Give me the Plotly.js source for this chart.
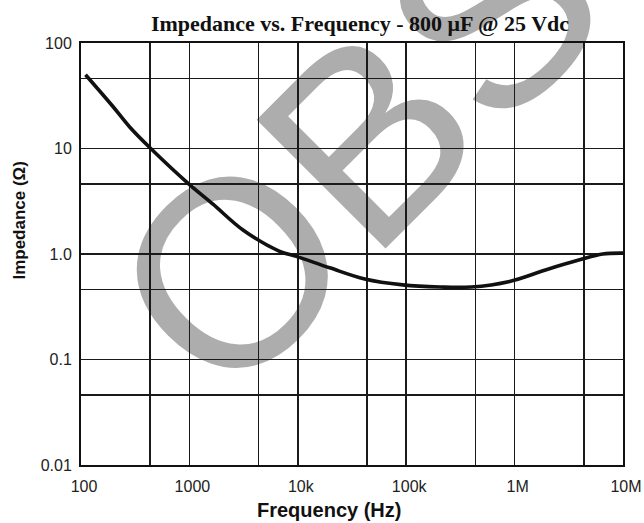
<!DOCTYPE html>
<html>
<head>
<meta charset="utf-8">
<script src="https://cdn.plot.ly/plotly-3.0.1.min.js"></script>
<style>html,body{margin:0;padding:0;background:#fff;}#chart{width:644px;height:523px;}</style>
</head>
<body>
<div id="chart"></div>
<script>
// Data
const frequencyHz = [110, 197, 281, 440, 990, 1650, 3120, 6800, 9700, 19700, 41400, 93000, 204000, 398000, 900000, 1960000, 3980000, 6500000, 10000000];
const impedanceOhm = [50, 25, 16, 10, 4.6, 2.97, 1.69, 1.06, 0.95, 0.74, 0.58, 0.51, 0.487, 0.487, 0.55, 0.71, 0.88, 1.0, 1.02];

const xTickVals = [100, 435, 1000, 4350, 10000, 43500, 100000, 435000, 1000000, 4350000, 10000000];
const xTickText = ['100', '', '1000', '', '10k', '', '100k', '', '1M', '', '10M'];
const yTickVals = [0.01, 0.046, 0.1, 0.46, 1, 4.6, 10, 46, 100];
const yTickText = ['0.01', '', '0.1', '', '1.0', '', '10', '', '100'];

const titleText = 'Impedance vs. Frequency - 800 \u03BCF @ 25 Vdc';
const xTitle = 'Frequency (Hz)';
const yTitle = 'Impedance (\u03A9)';
const watermark = 'OBS';

const sans = 'Liberation Sans, Arial, Helvetica, sans-serif';

const trace = {
  x: frequencyHz, y: impedanceOhm, type: 'scatter', mode: 'lines',
  line: {color: '#111', width: 3.6, shape: 'spline', smoothing: 1.0},
  hoverinfo: 'skip'
};

const axisCommon = {
  type: 'log', showgrid: true, gridcolor: '#1a1a1a', gridwidth: 1.6,
  showline: true, linecolor: '#111', linewidth: 2, mirror: true,
  ticks: '', zeroline: false, tickmode: 'array',
  tickfont: {family: sans, size: 16, color: '#222'}
};

const layout = {
  width: 644, height: 523,
  margin: {l: 81, r: 21, t: 43, b: 58},
  paper_bgcolor: '#fff', plot_bgcolor: 'rgba(0,0,0,0)',
  showlegend: false,
  title: {text: '<b>' + titleText + '</b>', font: {family: 'Liberation Serif, Times New Roman, serif', size: 22, color: '#111'},
          x: 0.559, xanchor: 'center', y: 0.956, yanchor: 'middle', xref: 'container', yref: 'container'},
  xaxis: Object.assign({}, axisCommon, {range: [2, 7], tickvals: xTickVals, ticktext: xTickText, ticklabelstandoff: 6, ticklabelshift: 3}),
  yaxis: Object.assign({}, axisCommon, {range: [-2, 2], tickvals: yTickVals, ticktext: yTickText, ticklabelstandoff: 4}),
  annotations: [
    {text: '<b>' + xTitle + '</b>', xref: 'paper', yref: 'paper', x: 0.457, y: -0.106, xanchor: 'center', yanchor: 'middle', showarrow: false,
     font: {family: sans, size: 20, color: '#111'}},
    {text: '<b>' + yTitle + '</b>', xref: 'paper', yref: 'paper', x: -0.113, y: 0.581, xanchor: 'center', yanchor: 'middle', showarrow: false, textangle: -90,
     font: {family: sans, size: 17, color: '#111'}}
  ],
  shapes: [
    {type: 'rect', xref: 'paper', yref: 'paper', x0: 0.467, x1: 0.487, y0: 0.786, y1: 0.806, layer: 'below',
     line: {width: 0}, fillcolor: 'rgba(0,0,0,0)',
     label: {text: watermark, textangle: -45, textposition: 'middle center', font: {family: sans, size: 265, color: '#adadad'}}}
  ]
};

Plotly.newPlot('chart', [trace], layout, {displayModeBar: false, staticPlot: true});
</script>
</body>
</html>
